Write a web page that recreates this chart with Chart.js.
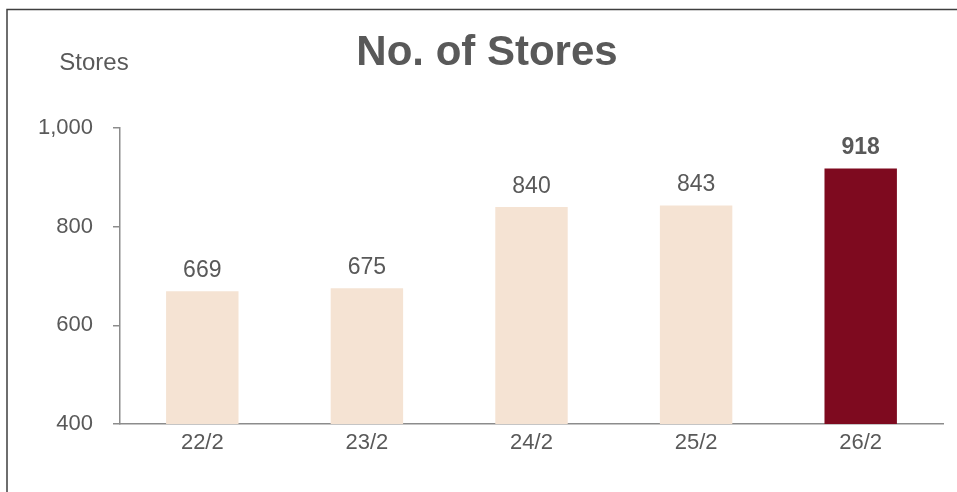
<!DOCTYPE html>
<html>
<head>
<meta charset="utf-8">
<script src="https://cdn.jsdelivr.net/npm/chart.js@4/dist/chart.umd.min.js"></script>
<style>
  html, body { margin: 0; padding: 0; background: #fff; }
  #wrap { position: relative; width: 957px; height: 492px; }
</style>
</head>
<body>
<div id="wrap"><canvas id="chart" width="957" height="492"></canvas></div>
<script>
const categories = ['22/2', '23/2', '24/2', '25/2', '26/2'];
const stores = [669, 675, 840, 843, 918];
const yTicks = [400, 600, 800, 1000];

const LIGHT = '#f5e3d3';
const DARK = '#7e0a1f';
const TEXT = '#595959';
const FONT = '"Liberation Sans", Arial, sans-serif';

// frame, title, unit label and value labels
const decor = {
  id: 'decor',
  afterDraw(chart) {
    const ctx = chart.ctx;
    ctx.save();
    ctx.strokeStyle = '#3f3f3f';
    ctx.lineWidth = 1.5;
    ctx.beginPath();
    ctx.moveTo(7, 492);
    ctx.lineTo(7, 9.5);
    ctx.lineTo(957, 9.5);
    ctx.stroke();

    ctx.fillStyle = TEXT;
    ctx.textAlign = 'center';
    ctx.textBaseline = 'middle';
    ctx.font = 'bold 42px ' + FONT;
    ctx.fillText('No. of Stores', 487, 53);

    ctx.font = '24px ' + FONT;
    ctx.fillText('Stores', 94, 63);

    const meta = chart.getDatasetMeta(0);
    meta.data.forEach((bar, i) => {
      const last = i === stores.length - 1;
      ctx.font = (last ? 'bold ' : '') + '23px ' + FONT;
      ctx.textBaseline = 'alphabetic';
      ctx.fillText(stores[i], bar.x, bar.y - 14);
    });
    ctx.restore();
  }
};

new Chart(document.getElementById('chart'), {
  type: 'bar',
  data: {
    labels: categories,
    datasets: [{
      data: stores,
      backgroundColor: stores.map((v, i) => i === stores.length - 1 ? DARK : LIGHT),
      barPercentage: 0.44,
      categoryPercentage: 1
    }]
  },
  options: {
    responsive: false,
    animation: false,
    layout: { padding: { top: 128, right: 14, left: 0, bottom: 0 } },
    plugins: { legend: { display: false }, tooltip: { enabled: false } },
    scales: {
      x: {
        grid: { display: true, drawOnChartArea: false, drawTicks: false, color: 'transparent' },
        border: { display: true, color: '#8c8c8c', width: 1.5 },
        ticks: { color: TEXT, font: { family: FONT, size: 22 }, padding: 6 },
        afterFit(s) { s.height = 68; }
      },
      y: {
        min: 400,
        max: 1000,
        afterBuildTicks(s) { s.ticks = yTicks.map(v => ({ value: v })); },
        grid: { drawOnChartArea: false, drawTicks: true, tickLength: 7, color: '#8c8c8c', lineWidth: 1.5 },
        border: { display: true, color: '#8c8c8c', width: 1.5 },
        ticks: {
          color: TEXT,
          font: { family: FONT, size: 22 },
          padding: 20,
          callback: v => v.toLocaleString('en-US')
        },
        afterFit(s) { s.width = 120; }
      }
    }
  },
  plugins: [decor]
});
</script>
</body>
</html>
